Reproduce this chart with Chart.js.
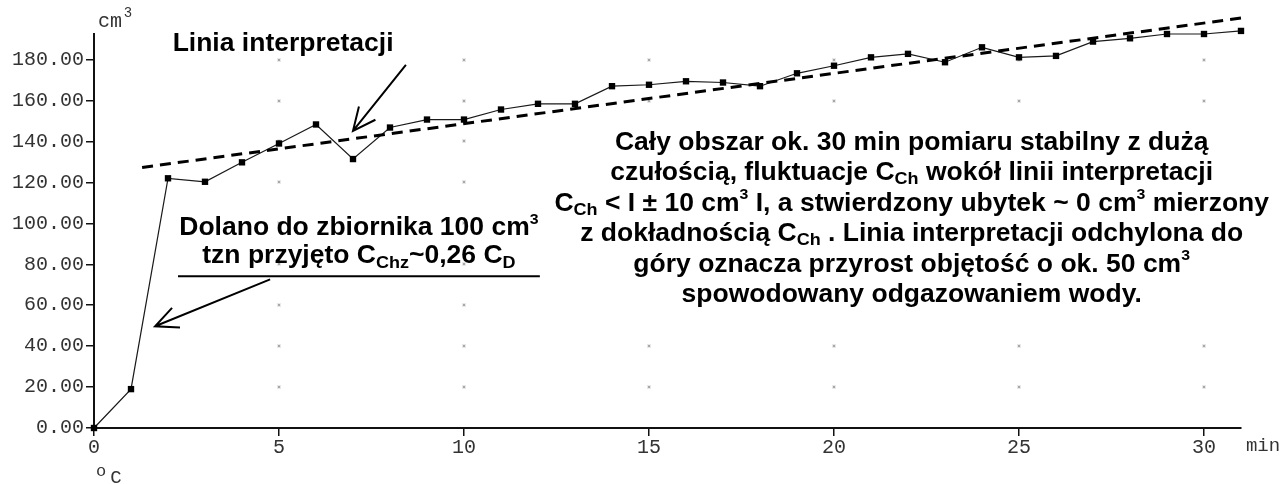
<!DOCTYPE html>
<html>
<head>
<meta charset="utf-8">
<script src="https://cdn.jsdelivr.net/npm/chart.js@4.4.0/dist/chart.umd.min.js"></script>
<style>
  html, body { margin: 0; padding: 0; background: #fff; }
  #wrap { width: 1287px; height: 484px; }
</style>
</head>
<body>
<div id="wrap"><canvas id="chart" width="1287" height="484"></canvas></div>
<script>
// dane
const minutes = [0, 1, 2, 3, 4, 5, 6, 7, 8, 9, 10, 11, 12, 13, 14, 15,
  16, 17, 18, 19, 20, 21, 22, 23, 24, 25, 26, 27, 28, 29, 30, 31];
const volume = [0, 19, 122, 120.3, 129.8, 139, 148.3, 131.4, 146.8, 150.7, 150.7, 155.6,
  158.4, 158.4, 167, 167.7, 169.4, 168.8, 167, 173.3, 177, 181.1, 182.8, 178.7,
  186, 181.1, 181.8, 188.8, 190.4, 192.5, 192.5, 194];

// linia interpretacji (dwa końce)
const interpX = [1.3, 31.0];
const interpY = [127.3, 200.3];

const xTicks = [0, 5, 10, 15, 20, 25, 30];
const yTicks = [0, 20, 40, 60, 80, 100, 120, 140, 160, 180];

const MONO = '"Liberation Mono", "DejaVu Sans Mono", monospace';
const SANS = '"Liberation Sans", Arial, sans-serif';

// tekst z indeksami dolnymi / górnymi
function drawRich(ctx, parts, cx, by, size, sx) {
  const fonts = {
    '': 'bold ' + size + 'px ' + SANS,
    sub: 'bold ' + Math.round(size * 0.66) + 'px ' + SANS,
    sup: 'bold ' + Math.round(size * 0.6) + 'px ' + SANS
  };
  const shift = { '': 0, sub: size * 0.17, sup: -size * 0.45 };
  let total = 0;
  parts.forEach(p => {
    ctx.font = fonts[p[1] || ''];
    total += ctx.measureText(p[0]).width;
  });
  ctx.save();
  ctx.translate(cx, by);
  ctx.scale(sx, 1);
  ctx.textBaseline = 'alphabetic';
  ctx.textAlign = 'left';
  ctx.fillStyle = '#000';
  let x = -total / 2;
  parts.forEach(p => {
    const k = p[1] || '';
    ctx.font = fonts[k];
    ctx.fillText(p[0], x, shift[k]);
    x += ctx.measureText(p[0]).width;
  });
  ctx.restore();
}

function drawArrow(ctx, x1, y1, x2, y2) {
  const a = Math.atan2(y1 - y2, x1 - x2);
  const len = 25, spread = 25 * Math.PI / 180;
  ctx.beginPath();
  ctx.moveTo(x1, y1);
  ctx.lineTo(x2, y2);
  ctx.moveTo(x2 + len * Math.cos(a - spread), y2 + len * Math.sin(a - spread));
  ctx.lineTo(x2, y2);
  ctx.lineTo(x2 + len * Math.cos(a + spread), y2 + len * Math.sin(a + spread));
  ctx.stroke();
}

// kropki siatki na przecięciach
const gridDots = {
  id: 'gridDots',
  beforeDatasetsDraw(chart) {
    const { ctx, scales: { x, y } } = chart;
    ctx.save();
    xTicks.slice(1).forEach(tx => {
      yTicks.slice(1).forEach(ty => {
        const px = Math.round(x.getPixelForValue(tx));
        const py = Math.round(y.getPixelForValue(ty));
        ctx.fillStyle = '#e8e8e8';
        ctx.fillRect(px - 2, py - 2, 4, 4);
        ctx.fillStyle = '#a8a8a8';
        ctx.fillRect(px - 1, py - 1, 2, 2);
      });
    });
    ctx.restore();
  }
};

// opisy, strzałki, jednostki
const notes = {
  id: 'notes',
  afterDraw(chart) {
    const { ctx, scales: { x, y } } = chart;
    const X = v => x.getPixelForValue(v);
    const Y = v => y.getPixelForValue(v);
    ctx.save();

    // białe tło pod dużym opisem
    ctx.fillStyle = '#fff';
    ctx.fillRect(X(12.2), Y(148), X(32) - X(12.2), Y(56) - Y(148));

    // jednostki osi
    ctx.fillStyle = '#333';
    ctx.textAlign = 'center';
    ctx.textBaseline = 'alphabetic';
    ctx.font = '20px ' + MONO;
    ctx.fillText('cm', 110, 27);
    ctx.font = '14px ' + MONO;
    ctx.fillText('3', 128, 17);
    ctx.font = '19px ' + MONO;
    ctx.textBaseline = 'middle';
    ctx.fillText('min', 1263, 446);
    ctx.font = '17px ' + MONO;
    ctx.fillText('o', 101, 471);
    ctx.font = '19px ' + MONO;
    ctx.fillText('C', 116, 478);

    const sx = 1.06, fs = 25;

    // Linia interpretacji
    drawRich(ctx, [['Linia interpretacji']], X(5.11), Y(184.2), fs, sx);
    ctx.strokeStyle = '#000';
    ctx.lineWidth = 2;
    drawArrow(ctx, X(8.43), Y(177.4), X(7.0), Y(145.2));

    // Dolano
    drawRich(ctx, [['Dolano do zbiornika 100 cm'], ['3', 'sup']], X(7.16), Y(94.1), fs, sx);
    drawRich(ctx, [['tzn przyjęto C'], ['Chz', 'sub'], ['~0,26 C'], ['D', 'sub']], X(7.16), Y(80.4), fs, sx);
    ctx.lineWidth = 2;
    ctx.beginPath();
    ctx.moveTo(X(2.27), Y(74.1));
    ctx.lineTo(X(12.05), Y(74.1));
    ctx.stroke();
    drawArrow(ctx, X(4.76), Y(72.6), X(1.65), Y(49.7));

    // duży opis
    const lines = [
      [['Cały obszar ok. 30 min pomiaru stabilny z dużą']],
      [['czułością, fluktuacje C'], ['Ch', 'sub'], [' wokół linii interpretacji']],
      [['C'], ['Ch', 'sub'], [' < I ± 10 cm'], ['3', 'sup'], [' I, a stwierdzony ubytek ~ 0 cm'], ['3', 'sup'], [' mierzony']],
      [['z dokładnością C'], ['Ch', 'sub'], [' . Linia interpretacji odchylona do']],
      [['góry oznacza przyrost objętość o ok. 50 cm'], ['3', 'sup']],
      [['spowodowany odgazowaniem wody.']]
    ];
    const top = Y(136.0);
    lines.forEach((ln, i) => drawRich(ctx, ln, X(22.1), top + i * 30.5, fs, sx));

    ctx.restore();
  }
};

new Chart(document.getElementById('chart'), {
  type: 'line',
  data: {
    datasets: [
      {
        label: 'Linia interpretacji',
        data: interpX.map((v, i) => ({ x: v, y: interpY[i] })),
        borderColor: '#000',
        borderWidth: 3,
        borderDash: [11, 7],
        pointRadius: 0,
        clip: false
      },
      {
        label: 'Objętość',
        data: minutes.map((m, i) => ({ x: m, y: volume[i] })),
        borderColor: '#1a1a1a',
        borderWidth: 1.2,
        pointStyle: 'rect',
        pointRadius: 4.5,
        pointBackgroundColor: '#000',
        pointBorderWidth: 0,
        tension: 0,
        clip: false
      }
    ]
  },
  options: {
    responsive: false,
    animation: false,
    layout: { padding: { top: 34, right: 46, left: 0, bottom: 0 } },
    plugins: {
      legend: { display: false },
      tooltip: { enabled: false }
    },
    scales: {
      x: {
        type: 'linear',
        min: 0,
        max: 31,
        afterFit: s => { s.height = 56; },
        afterBuildTicks: s => { s.ticks = xTicks.map(v => ({ value: v })); },
        border: { display: true, color: '#111', width: 2 },
        grid: { drawOnChartArea: false, drawTicks: true, tickLength: 8, color: '#111', lineWidth: 1.5 },
        ticks: {
          color: '#333',
          padding: 0,
          maxRotation: 0,
          font: { family: MONO, size: 20 },
          callback: v => String(v)
        }
      },
      y: {
        min: 0,
        max: 192.5,
        afterFit: s => { s.width = 94; },
        afterBuildTicks: s => { s.ticks = yTicks.map(v => ({ value: v })); },
        border: { display: true, color: '#111', width: 2 },
        grid: { drawOnChartArea: false, drawTicks: true, tickLength: 8, color: '#111', lineWidth: 1.5 },
        ticks: {
          color: '#333',
          padding: 2,
          font: { family: MONO, size: 20 },
          callback: v => Number(v).toFixed(2)
        }
      }
    }
  },
  plugins: [gridDots, notes]
});
</script>
</body>
</html>
